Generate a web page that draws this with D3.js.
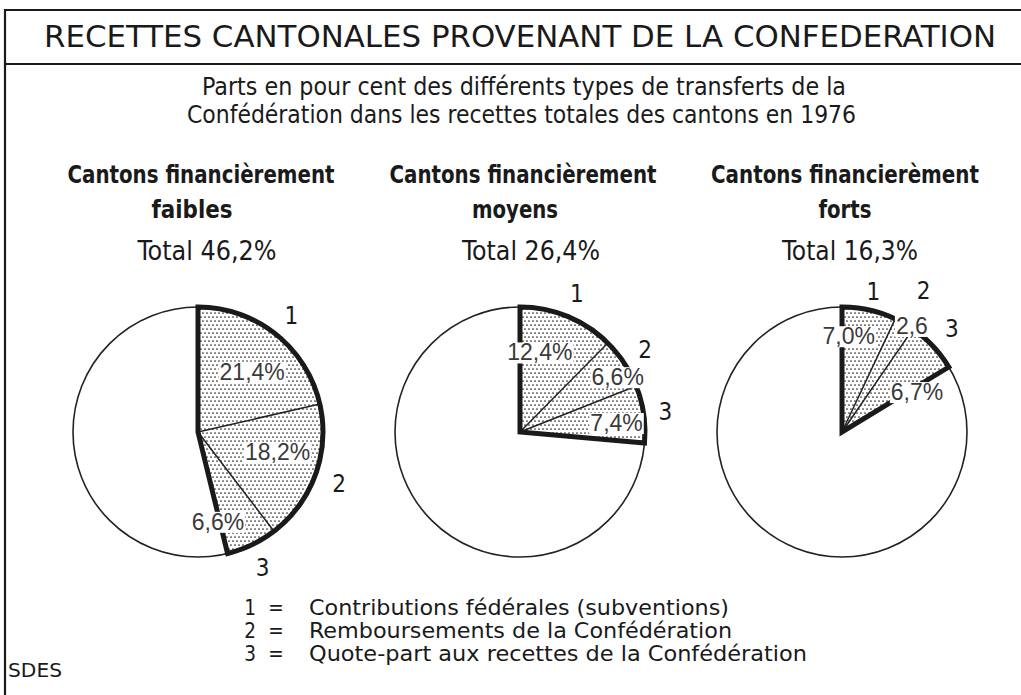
<!DOCTYPE html>
<html>
<head>
<meta charset="utf-8">
<script src="https://cdn.jsdelivr.net/npm/d3@7"></script>
<style>
	body { margin: 0; background: #fff; }
	svg { display: block; }
	.cond { font-family: 'Liberation Sans Narrow', 'DejaVu Sans Condensed', 'DejaVu Sans', sans-serif; font-stretch: condensed; fill: #1a1a1a; }
	.pct { font-family: 'Liberation Sans', 'DejaVu Sans', sans-serif; fill: #3a3a3a; font-size: 23px; }
</style>
</head>
<body>
<svg id="chart" width="1021" height="695"></svg>
<script>
// chart values
var title = 'RECETTES CANTONALES PROVENANT DE LA CONFEDERATION';
var subtitle = ['Parts en pour cent des différents types de transferts de la',
	'Confédération dans les recettes totales des cantons en 1976'];

var groupLine1 = ['Cantons financièrement', 'Cantons financièrement', 'Cantons financierèment'];
var groupLine2 = ['faibles', 'moyens', 'forts'];
var totals = [46.2, 26.4, 16.3];

var subventions = [21.4, 12.4, 7.0];
var remboursements = [18.2, 6.6, 2.6];
var quoteParts = [6.6, 7.4, 6.7];

var sliceKeys = ['1', '2', '3'];
var legendLabels = ['Contributions fédérales (subventions)',
	'Remboursements de la Confédération',
	'Quote-part aux recettes de la Confédération'];
var source = 'SDES';

// layout (not data): where the percent labels sit, polar [radius, degrees]
var pctPlace = [
	[[81, 42], [82, 104], [92, 167.5]],
	[[82, 14], [112, 60.7], [97, 84.7]],
	[[96, 4], [127, 33.4], [85, 62]]
];
var pctSuffix = [['%', '%', '%'], ['%', '%', '%'], ['%', '', '%']];
var keyRadius = [[150, 150, 150], [150, 150, 147], [144, 164, 151]];

var W = 1021, H = 695, R = 125, pieY = 432;

var svg = d3.select('#chart');

var defs = svg.append('defs');
var pat = defs.append('pattern')
	.attr('id', 'dots')
	.attr('width', 4).attr('height', 8)
	.attr('patternUnits', 'userSpaceOnUse');
pat.append('rect').attr('width', 4).attr('height', 8).attr('fill', '#fff');
pat.append('circle').attr('cx', 1).attr('cy', 1).attr('r', 0.85).attr('fill', '#222');
pat.append('circle').attr('cx', 3).attr('cy', 5).attr('r', 0.85).attr('fill', '#222');

// frame
var frame = svg.append('g').attr('stroke', '#1a1a1a').attr('stroke-width', 2.2);
frame.append('line').attr('x1', 5).attr('y1', 10).attr('x2', W).attr('y2', 10);
frame.append('line').attr('x1', 5).attr('y1', 64).attr('x2', W).attr('y2', 64);
frame.append('line').attr('x1', 5).attr('y1', 9).attr('x2', 5).attr('y2', H);

svg.append('text')
	.attr('class', 'cond')
	.attr('x', 520).attr('y', 47)
	.attr('text-anchor', 'middle')
	.attr('font-size', 30)
	.attr('textLength', 952).attr('lengthAdjust', 'spacingAndGlyphs')
	.text(title);

var subX = [524, 521.5], subY = [95, 123], subLen = [644, 669];
svg.selectAll('text.sub').data(subtitle).enter().append('text')
	.attr('class', 'cond sub')
	.attr('x', function(d, i) { return subX[i]; })
	.attr('y', function(d, i) { return subY[i]; })
	.attr('text-anchor', 'middle')
	.attr('font-size', 25)
	.attr('textLength', function(d, i) { return subLen[i]; })
	.attr('lengthAdjust', 'spacingAndGlyphs')
	.text(function(d) { return d; });

var x = d3.scalePoint().domain(d3.range(totals.length)).range([198, 842]);

var pie = d3.pie().sort(null).value(function(d) { return d; });
var arc = d3.arc().innerRadius(0).outerRadius(R);
var angle = d3.scaleLinear().domain([0, 100]).range([0, Math.PI * 2]);

var comma = d3.formatLocale({decimal: ',', thousands: "'", grouping: [3], currency: ['', '']}).format('.1f');

function polar(r, a) {
	return [r * Math.sin(a), -r * Math.cos(a)];
}

var head1Len = [267, 267, 268], head2Len = [81, 86, 53], totLen = [139, 138, 136];
var head2Dx = [-6, -5, 3], totDx = [9, 11, 8];

totals.forEach(function(total, gi) {
	var cx = x(gi);
	var values = [subventions[gi], remboursements[gi], quoteParts[gi]];
	var arcs = pie(values.concat([100 - d3.sum(values)]));

	// headings
	svg.append('text').attr('class', 'cond')
		.attr('x', cx + 3).attr('y', 183)
		.attr('text-anchor', 'middle')
		.attr('font-size', 25).attr('font-weight', 'bold')
		.attr('textLength', head1Len[gi]).attr('lengthAdjust', 'spacingAndGlyphs')
		.text(groupLine1[gi]);
	svg.append('text').attr('class', 'cond')
		.attr('x', cx + head2Dx[gi]).attr('y', 218)
		.attr('text-anchor', 'middle')
		.attr('font-size', 25).attr('font-weight', 'bold')
		.attr('textLength', head2Len[gi]).attr('lengthAdjust', 'spacingAndGlyphs')
		.text(groupLine2[gi]);
	svg.append('text').attr('class', 'cond')
		.attr('x', cx + totDx[gi]).attr('y', 260)
		.attr('text-anchor', 'middle')
		.attr('font-size', 27)
		.attr('textLength', totLen[gi]).attr('lengthAdjust', 'spacingAndGlyphs')
		.text('Total ' + comma(total) + '%');

	var g = svg.append('g').attr('transform', 'translate(' + cx + ',' + pieY + ')');

	g.append('circle').attr('r', R)
		.attr('fill', '#fff').attr('stroke', '#222').attr('stroke-width', 1.6);

	g.selectAll('path.slice').data(arcs.slice(0, 3)).enter().append('path')
		.attr('class', 'slice')
		.attr('d', arc)
		.attr('fill', 'url(#dots)');

	// thin lines between the transfer types
	g.selectAll('line.sep').data(arcs.slice(0, 2)).enter().append('line')
		.attr('class', 'sep')
		.attr('x1', 0).attr('y1', 0)
		.attr('x2', function(d) { return polar(R, d.endAngle)[0]; })
		.attr('y2', function(d) { return polar(R, d.endAngle)[1]; })
		.attr('stroke', '#222').attr('stroke-width', 1.5);

	// heavy outline round the whole share of the Confederation
	g.append('path')
		.attr('d', arc({startAngle: 0, endAngle: angle(d3.sum(values))}))
		.attr('fill', 'none')
		.attr('stroke', '#1a1a1a').attr('stroke-width', 5)
		.attr('stroke-linejoin', 'miter');

	// percent labels with white knock-out
	arcs.slice(0, 3).forEach(function(d, si) {
		var p = polar(pctPlace[gi][si][0], pctPlace[gi][si][1] * Math.PI / 180);
		var lg = g.append('g');
		var t = lg.append('text').attr('class', 'pct')
			.attr('x', p[0]).attr('y', p[1] + 8)
			.attr('text-anchor', 'middle')
			.text(comma(d.value) + pctSuffix[gi][si]);
		var bb = t.node().getBBox();
		lg.insert('rect', 'text')
			.attr('x', bb.x - 1).attr('y', p[1] - 10)
			.attr('width', bb.width + 2).attr('height', 21)
			.attr('fill', '#fff');

		var mid = (d.startAngle + d.endAngle) / 2;
		var k = polar(keyRadius[gi][si], mid);
		g.append('text').attr('class', 'cond')
			.attr('x', k[0]).attr('y', k[1] + 9)
			.attr('text-anchor', 'middle')
			.attr('font-size', 24)
			.text(sliceKeys[si]);
	});
});

// legend
var legY = d3.scaleLinear().domain([0, 2]).range([615, 661]);
var legLen = [420, 423, 498];
var leg = svg.append('g').attr('class', 'legend');
legendLabels.forEach(function(lab, i) {
	leg.append('text').attr('class', 'cond')
		.attr('x', 250).attr('y', legY(i))
		.attr('text-anchor', 'middle').attr('font-size', 20.5)
		.attr('transform', 'translate(0,0)')
		.text(sliceKeys[i]);
	leg.append('text').attr('class', 'cond')
		.attr('x', 276).attr('y', legY(i))
		.attr('text-anchor', 'middle').attr('font-size', 20.5)
		.text('=');
	leg.append('text').attr('class', 'cond')
		.attr('x', 309).attr('y', legY(i))
		.attr('font-size', 20.5)
		.attr('textLength', legLen[i]).attr('lengthAdjust', 'spacingAndGlyphs')
		.text(lab);
});

svg.append('text').attr('class', 'cond')
	.attr('x', 8).attr('y', 677)
	.attr('font-size', 20)
	.attr('textLength', 54).attr('lengthAdjust', 'spacingAndGlyphs')
	.text(source);
</script>
</body>
</html>
